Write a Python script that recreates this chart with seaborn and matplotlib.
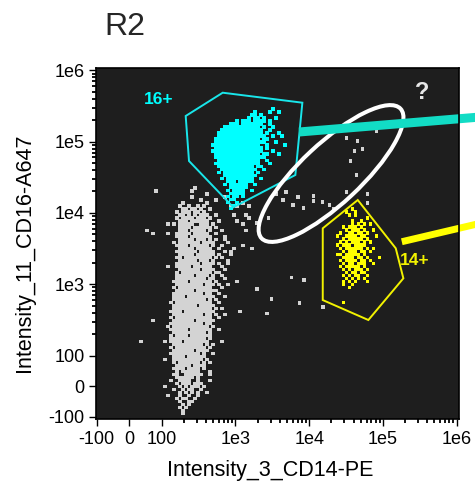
import numpy as np
import pandas as pd
import seaborn as sns
import matplotlib.pyplot as plt
from matplotlib.patches import Polygon, Ellipse
from matplotlib.transforms import IdentityTransform

# event clouds stored as occupancy maps: '#' = event in that cell
# one cell = 0.0407 decades (CD14) x 0.0421 decades (CD16), rows run top -> bottom
CELL_X = 0.0407
CELL_Y = 0.0421

gray_origin = (36, 22340)        # CD14, CD16 of the top-left cell
gray_rows = [
    "..................#",
    ".....#...........#",
    "......................#",
    ".................#..........#",
    "....................#....#",
    "..............#.......#...........#",
    ".............#..#..#.#........#.#...#",
    "..............##.##.#..#",
    "............#.###.##.#",
    ".............##.#.#.###..#.....#...#",
    "............#.####.###.#............#",
    ".............###.######...#.....#",
    ".........#.#.#####..###.#.........#",
    ".............####.######.#",
    "..#..........###.#####.#...#.......#",
    "....#....#..#####.#####..#",
    "............####.#######....#",
    ".............#####.###.#.#..#",
    "...........#.#######.####....#",
    "............####.######.#..#......#",
    ".............#####.#####..#....#.....#",
    "............#######.#####...#.#",
    ".............#####.######.#...#",
    "............##.#########.#.#",
    ".............######.###.#....#",
    "............########.####.#..#",
    ".........#..#####.######...#",
    ".............#######.####...#",
    "............#.##########.##",
    "............######.####.#..#",
    "............##########.##...#",
    "...........#####.#######.#......#",
    "............#########.###.#..#",
    "...........#.###########...#",
    "............######.#######",
    "...........##########.##..#",
    "...........####.#########...#",
    "...........###########.#.#",
    "..........#.############..#",
    "...........########.#####",
    "...........#############.#.#",
    "..........####.##########........#",
    "...........##########.##.#..#",
    "..........#.############..#",
    "....#......#######.######",
    "..........###########.##",
    ".........#.############.#",
    "..........######.#######..#",
    "...........###########.#",
    "..........#.####.#######",
    "..........############.#",
    "#.......#.####.########....#",
    "...........##########.#.#",
    "..........#.##########.#",
    "...........#######.####",
    "..........##########.#..#",
    "...........####.######",
    "........#..##########.#",
    "...........#.#######.#.#",
    "............#####.####",
    "...........####.####.#",
    "............#.######...#",
    "...........##..######..#",
    "............######.#",
    "..........#..####..#...#",
    "............#.###.###",
    "........#....#.#.###.#",
    "...........#..#.##..#",
    ".............#.#.#.#..#",
    ".........#...#..#..#",
    "............#.##..#",
    ".............#..##",
    "..............#.#",
    ".............#.#",
    "..............#",
    "..............#",
]

cyan_origin = (411, 315600)
cyan_rows = [
    "",
    "......................#",
    "................#....#..#",
    "...............##.#",
    "..............#.##.#...#",
    "..........#.###.####.#",
    "........###.#######..#",
    "......############.#..#",
    ".....##############..#",
    "....###############.#...#",
    "....################..#..#",
    "...###############.##",
    "...#################...#",
    "..################..#.....#",
    "...################.#",
    "..#################...#",
    "...###############.##...#",
    "...#################",
    "....##############..#",
    "...###############...#",
    "....############.##",
    ".....############..#",
    "....#.##########.#",
    "......###########",
    ".....#.#########..#",
    ".......###.#####",
    "......#.######..#",
    "........######",
    ".......#.####..#",
    "........#####",
    ".......#.##.#",
    "........##",
    ".......#..#",
    ".........#",
    "........#",
]

yellow_origin = (21770, 11340)
yellow_rows = [
    "......#",
    "....#..#",
    ".....#.#",
    "...........#",
    "......#..#",
    "......#.#.#.#",
    "...#.###.#",
    "....#.###.#..#",
    "..#..##.##.#",
    ".#..####.##...#",
    "...#.#####.#",
    "..#.#.###.#.#",
    ".#.###.####",
    "..#.######.#.#",
    "...#.###.##.#",
    ".##.#####.#",
    "...####.##.#...#",
    "..#.####.##.#",
    "...#.##.###..#",
    "..#.#####.#",
    "...#.#.###.#",
    "....#.##.##",
    "...#.#.##..#",
    "....#.#.#.#",
    "...#.#.#...#",
    "...#..#",
    ".....#",
    "",
    "",
    "",
    "",
    "...#",
]

# sparse events between the populations
stray_cd14 = [2770, 1960, 3550, 4850, 4420, 7060, 8260, 11290, 11290, 14960,
              18620, 21090, 6040, 31690, 61090, 61090, 31690, 44670, 52240, 40640,
              35890, 43270, 80860, 5680, 8510, 1960, 3040, 7290, 2680, 15420]
stray_cd16 = [8490, 7220, 18400, 19650, 15170, 16710, 11720, 17260, 14690, 14220,
              12910, 11340, 12910, 19650, 18400, 13770, 112200, 101900, 78700, 73800,
              53460, 34030, 140900, 1260, 1145, 857, 620, 545, 394, 479]

# gates
gate16_cd14 = [211, 671, 8080, 6490, 935, 234]
gate16_cd16 = [228600, 485000, 351300, 34030, 11990, 53460]
gate14_cd14 = [15280, 45620, 149600, 189700, 63530, 15280]
gate14_cd16 = [6080, 15170, 3187, 1210, 315, 600]
ellipse_center = (19800, 35700)

# pointer bars running off the right edge
bar16_cd14 = [7290, 2.09e6]
bar16_cd16 = [136400, 221300]
bar14_cd14 = [180600, 2.09e6]
bar14_cd16 = [3945, 7150]

major_ticks = [-100, 0, 100, 1e3, 1e4, 1e5, 1e6]
major_labels = ['-100', '0', '100', '1e3', '1e4', '1e5', '1e6']

XCOL = 'Intensity_3_CD14-PE'
YCOL = 'Intensity_11_CD16-A647'

sns.set_theme(style='ticks')
plt.rcParams['font.family'] = ['Liberation Sans', 'DejaVu Sans']

fig = plt.figure(figsize=(4.75, 4.84), dpi=100)
ax = fig.add_axes([0.2015, 0.1349, 0.7655, 0.7252])
ax.set_xscale('symlog', linthresh=100, linscale=0.397)
ax.set_yscale('symlog', linthresh=100, linscale=0.385)
ax.set_facecolor('#1e1e1e')


def occupancy(rows, origin):
    tx = ax.xaxis.get_transform()
    ty = ax.yaxis.get_transform()
    x0 = tx.transform(np.array([origin[0]], float))[0]
    y0 = ty.transform(np.array([origin[1]], float))[0]
    xs, ys = [], []
    for r, row in enumerate(rows):
        for c, ch in enumerate(row):
            if ch == '#':
                xs.append(x0 + c * CELL_X * 100)
                ys.append(y0 - r * CELL_Y * 100)
    return (tx.inverted().transform(np.array(xs)),
            ty.inverted().transform(np.array(ys)))


frames = []
for name, rows, origin in [('other', gray_rows, gray_origin),
                           ('16+', cyan_rows, cyan_origin),
                           ('14+', yellow_rows, yellow_origin)]:
    x, y = occupancy(rows, origin)
    frames.append(pd.DataFrame({XCOL: x, YCOL: y, 'pop': name}))
    if name == 'other':
        frames.append(pd.DataFrame({XCOL: stray_cd14, YCOL: stray_cd16, 'pop': name}))
df = pd.concat(frames, ignore_index=True)

palette = {'other': '#d3d3d3', '16+': '#00ffff', '14+': '#ffff00'}
sns.scatterplot(data=df, x=XCOL, y=YCOL, hue='pop', palette=palette,
                marker='s', s=5, linewidth=0, legend=False, ax=ax)

ax.add_patch(Polygon(list(zip(gate16_cd14, gate16_cd16)), closed=True,
                     fill=False, ec='#19e6ea', lw=1.4))
ax.add_patch(Polygon(list(zip(gate14_cd14, gate14_cd16)), closed=True,
                     fill=False, ec='#f2f200', lw=1.4))

ax.plot(bar16_cd14, bar16_cd16, color='#12dcc5', lw=6.5,
        solid_capstyle='butt', clip_on=False)
ax.plot(bar14_cd14, bar14_cd16, color='#ffff00', lw=5,
        solid_capstyle='butt', clip_on=False)

ax.text(91, 395600, '16+', color='#00ffff', fontsize=12.5,
        fontweight='bold', ha='center', va='center')
ax.text(273600, 2185, '14+', color='#f2f200', fontsize=12.5,
        fontweight='bold', ha='center', va='center', clip_on=False)
ax.text(340600, 488400, '?', color='#e6e6e6', fontsize=17,
        fontweight='bold', ha='center', va='center')

ax.set_xlim(-103.4, 1.09e6)
ax.set_ylim(-107.2, 1.087e6)

# ellipse drawn in screen pixels around its data centre
cx, cy = ax.transData.transform(ellipse_center)
ax.add_artist(Ellipse((cx, cy), width=190, height=60, angle=43,
                      transform=IdentityTransform(), fill=False,
                      ec='white', lw=2.9))

minor = [m * 10 ** k for k in range(2, 6) for m in range(2, 10)]
ax.set_xticks(major_ticks, major_labels)
ax.set_yticks(major_ticks, major_labels)
ax.set_xticks(minor, minor=True)
ax.set_yticks(minor, minor=True)
ax.xaxis.set_minor_formatter(plt.NullFormatter())
ax.yaxis.set_minor_formatter(plt.NullFormatter())
ax.tick_params(which='major', direction='out', length=5, width=1,
               color='black', labelsize=13, labelcolor='black')
ax.tick_params(axis='x', which='major', pad=4)
ax.tick_params(axis='y', which='major', pad=3)
ax.tick_params(which='minor', direction='out', length=3, width=1.3, color='black')
for sp in ax.spines.values():
    sp.set_color('black')
    sp.set_linewidth(1.2)

ax.set_xlabel(XCOL, fontsize=15.5, color='black')
ax.set_ylabel(YCOL, fontsize=15.5, color='black')
ax.xaxis.set_label_coords(0.479, -0.118)
ax.yaxis.set_label_coords(-0.167, 0.472)

fig.text(104 / 475, 1 - 35 / 484, 'R2', fontsize=23, ha='left', va='baseline')

plt.savefig('out.png', dpi=100)
